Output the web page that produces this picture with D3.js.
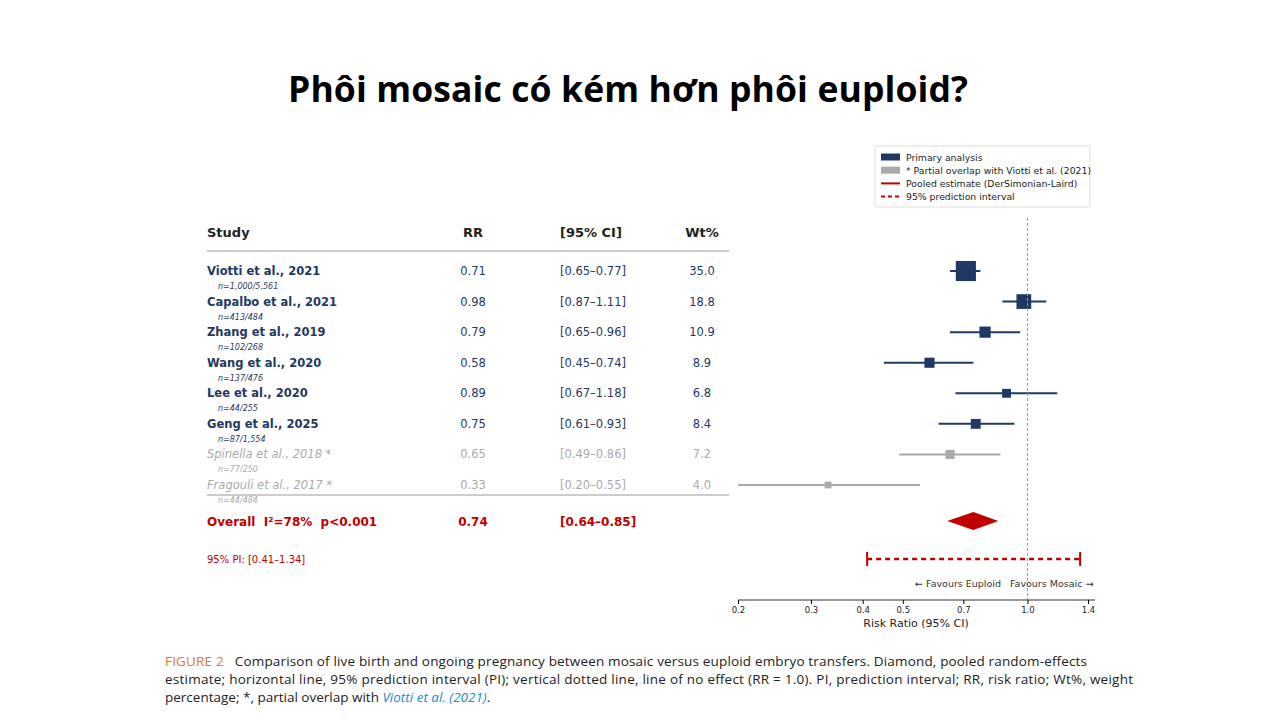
<!DOCTYPE html><html><head><meta charset="utf-8"><script src="https://cdn.jsdelivr.net/npm/d3@7"></script>
<style>body{margin:0;background:#fff}svg text{font-family:"DejaVu Sans",sans-serif;white-space:pre}</style></head><body>
<svg id="c" width="1280" height="720"></svg>
<script>
const studies=["Viotti et al., 2021","Capalbo et al., 2021","Zhang et al., 2019","Wang et al., 2020","Lee et al., 2020","Geng et al., 2025","Spinella et al., 2018 *","Fragouli et al., 2017 *"];
const ns=["n=1,000/5,561","n=413/484","n=102/268","n=137/476","n=44/255","n=87/1,554","n=77/250","n=44/484"];
const rr=[0.71,0.98,0.79,0.58,0.89,0.75,0.65,0.33];
const lo=[0.65,0.87,0.65,0.45,0.67,0.61,0.49,0.20];
const hi=[0.77,1.11,0.96,0.74,1.18,0.93,0.86,0.55];
const wt=[35.0,18.8,10.9,8.9,6.8,8.4,7.2,4.0];
const primary=[true,true,true,true,true,true,false,false];
const pooled={rr:0.74,lo:0.64,hi:0.85};
const pi=[0.41,1.34];
const ticks=[0.2,0.3,0.4,0.5,0.7,1.0,1.4];
const legendItems=["Primary analysis","* Partial overlap with Viotti et al. (2021)","Pooled estimate (DerSimonian-Laird)","95% prediction interval"];

const svg=d3.select("#c");
const NAVY="#1f3864",GREY="#aaaaaa",RED="#c00000";
const x=d3.scaleLog().domain([0.2,1.4]).range([738,1088]);
const y=d3.scaleLinear().domain([0,7]).range([271,485]);

svg.append("text").attr("x",628).attr("y",102).attr("text-anchor","middle").style("font-family","'Open Sans','Noto Sans',sans-serif").attr("font-weight","bold").attr("font-size",35.5).attr("textLength",680).text("Phôi mosaic có kém hơn phôi euploid?");

const hdr=[["Study",207,"start"],["RR",473,"middle"],["[95% CI]",560,"start"],["Wt%",702,"middle"]];
hdr.forEach(h=>svg.append("text").attr("x",h[1]).attr("y",237).attr("text-anchor",h[2]).attr("font-weight","bold").attr("font-size",13).attr("fill","#222").text(h[0]));
svg.append("line").attr("x1",207).attr("x2",729).attr("y1",251).attr("y2",251).attr("stroke","#999").attr("stroke-width",1.2);
svg.append("line").attr("x1",207).attr("x2",729).attr("y1",495).attr("y2",495).attr("stroke","#999").attr("stroke-width",1.2);

studies.forEach((s,i)=>{
  const c=primary[i]?NAVY:GREY, yy=y(i);
  const g=svg.append("g").attr("fill",c).attr("font-size",11.5);
  g.append("text").attr("x",207).attr("y",yy+4).attr("font-weight",primary[i]?"bold":"normal").attr("font-style",primary[i]?"normal":"italic").text(s);
  g.append("text").attr("x",218).attr("y",yy+18).attr("font-size",8).attr("font-style","italic").text(ns[i]);
  g.append("text").attr("x",473).attr("y",yy+4).attr("text-anchor","middle").text(rr[i].toFixed(2));
  g.append("text").attr("x",560).attr("y",yy+4).text(`[${lo[i].toFixed(2)}–${hi[i].toFixed(2)}]`);
  g.append("text").attr("x",702).attr("y",yy+4).attr("text-anchor","middle").text(wt[i].toFixed(1));
  svg.append("line").attr("x1",x(lo[i])).attr("x2",x(hi[i])).attr("y1",yy).attr("y2",yy).attr("stroke",c).attr("stroke-width",2);
  const sz=3.4*Math.sqrt(wt[i]);
  svg.append("rect").attr("x",x(rr[i])-sz/2).attr("y",yy-sz/2).attr("width",sz).attr("height",sz).attr("fill",c);
});

const oy=521;
const og=svg.append("g").attr("fill",RED).attr("font-weight","bold").attr("font-size",12);
og.append("text").attr("x",207).attr("y",oy+5).text("Overall  I²=78%  p<0.001");
og.append("text").attr("x",473).attr("y",oy+5).attr("text-anchor","middle").text(pooled.rr.toFixed(2));
og.append("text").attr("x",560).attr("y",oy+5).text(`[${pooled.lo.toFixed(2)}–${pooled.hi.toFixed(2)}]`);
svg.append("text").attr("x",207).attr("y",563).attr("fill",RED).attr("font-size",10).text(`95% PI: [${pi[0].toFixed(2)}–${pi[1].toFixed(2)}]`);
svg.append("path").attr("d",`M${x(pooled.lo)},${oy}L${x(pooled.rr)},${oy-9}L${x(pooled.hi)},${oy}L${x(pooled.rr)},${oy+9}Z`).attr("fill",RED);

svg.append("line").attr("x1",x(1)).attr("x2",x(1)).attr("y1",218).attr("y2",600).attr("stroke","#999").attr("stroke-dasharray","3,2").attr("stroke-width",1);

const py=559;
svg.append("line").attr("x1",x(pi[0])).attr("x2",x(pi[1])).attr("y1",py).attr("y2",py).attr("stroke",RED).attr("stroke-width",2.5).attr("stroke-dasharray","5,4");
pi.forEach(v=>svg.append("line").attr("x1",x(v)).attr("x2",x(v)).attr("y1",py-7).attr("y2",py+7).attr("stroke",RED).attr("stroke-width",2));

svg.append("text").attr("x",1001).attr("y",587).attr("text-anchor","end").attr("font-size",9.5).attr("fill","#333").text("← Favours Euploid");
svg.append("text").attr("x",1010).attr("y",587).attr("font-size",9.5).attr("fill","#333").text("Favours Mosaic →");

const ax=svg.append("g").attr("transform","translate(0,600)").call(d3.axisBottom(x).tickValues(ticks).tickFormat(d3.format(".1f")).tickSize(4).tickSizeOuter(0));
ax.select(".domain").attr("d","M738,0H1095").attr("stroke","#333");
ax.selectAll("text").attr("font-size",8.5).attr("fill","#222").style("font-family","'DejaVu Sans'");
svg.append("text").attr("x",916).attr("y",627).attr("text-anchor","middle").attr("font-size",11).attr("fill","#222").text("Risk Ratio (95% CI)");

svg.append("rect").attr("x",875).attr("y",146).attr("width",215).attr("height",61).attr("fill","#fff").attr("stroke","#ddd").attr("rx",2);
legendItems.forEach((t,i)=>{
  const ly=157+i*13.2;
  if(i<2) svg.append("rect").attr("x",881).attr("y",ly-3.5).attr("width",19).attr("height",7).attr("fill",i==0?NAVY:GREY);
  else svg.append("line").attr("x1",881).attr("x2",900).attr("y1",ly).attr("y2",ly).attr("stroke",RED).attr("stroke-width",2).attr("stroke-dasharray",i==3?"4,3":null);
  svg.append("text").attr("x",906).attr("y",ly+3.5).attr("font-size",9.3).attr("fill","#222").text(t);
});

const CF="'Open Sans','Noto Sans',sans-serif";
const cap=svg.append("text").attr("x",165).attr("y",666).attr("font-size",13.5).attr("fill","#222").style("font-family",CF).attr("textLength",922).attr("lengthAdjust","spacing");
cap.append("tspan").attr("fill","#e87722").text("FIGURE 2");
cap.append("tspan").text("   Comparison of live birth and ongoing pregnancy between mosaic versus euploid embryo transfers. Diamond, pooled random-effects");
svg.append("text").attr("x",165).attr("y",684).attr("font-size",13.5).attr("fill","#222").style("font-family",CF).attr("textLength",968).attr("lengthAdjust","spacing").text("estimate; horizontal line, 95% prediction interval (PI); vertical dotted line, line of no effect (RR = 1.0). PI, prediction interval; RR, risk ratio; Wt%, weight");
const c3=svg.append("text").attr("x",165).attr("y",702).attr("font-size",13.5).attr("fill","#222").style("font-family",CF);
c3.append("tspan").text("percentage; *, partial overlap with ");
c3.append("tspan").attr("fill","#1a8ac6").attr("font-style","italic").text("Viotti et al. (2021)");
c3.append("tspan").text(".");
</script></body></html>
